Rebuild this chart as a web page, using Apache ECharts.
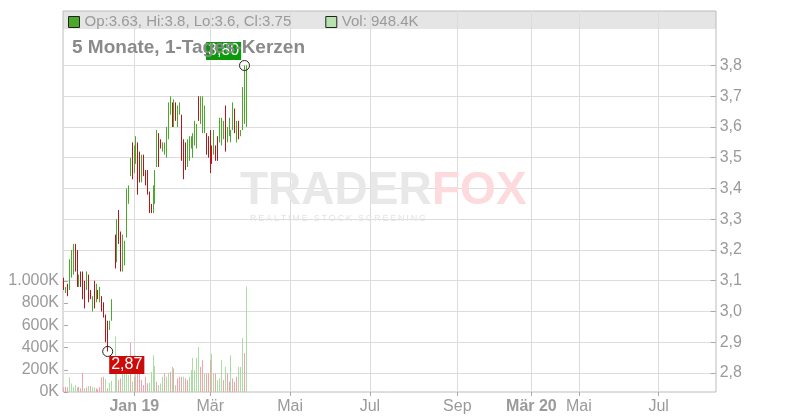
<!DOCTYPE html>
<html><head><meta charset="utf-8">
<script src="https://cdn.jsdelivr.net/npm/echarts@6/dist/echarts.min.js"></script>
<style>html,body{margin:0;padding:0;background:#fff}#c{width:800px;height:420px}</style>
</head><body><div id="c"></div>
<script>
// ---- data (one slot per trading day, null = no bar) ----
const highs = [3.11,3.08,3.09,3.17,3.20,3.22,3.22,3.20,3.12,3.13,3.13,3.10,3.13,3.12,3.07,3.05,3.10,3.09,3.07,3.08,3.05,3.03,2.99,2.97,2.97,3.04,null,
  3.25,3.30,3.33,3.26,3.25,3.23,3.40,3.41,3.50,3.55,3.54,3.57,3.55,3.52,3.51,3.51,3.46,3.46,3.39,3.35,3.41,3.46,3.59,3.58,3.56,3.55,3.55,3.60,
  3.68,3.70,3.68,3.69,3.68,3.67,3.68,3.64,3.56,3.55,3.56,3.57,3.57,3.58,3.62,3.61,3.70,3.70,3.70,3.67,3.58,3.57,3.59,3.54,3.59,3.54,3.57,3.63,3.63,3.62,3.67,3.60,3.63,3.59,3.68,3.66,3.62,3.62,3.59,3.73,3.80,3.80];
const lows = [3.07,3.06,3.05,3.07,3.11,3.12,3.13,3.08,3.08,3.08,3.04,3.01,3.07,3.03,3.04,3.00,3.01,3.03,3.04,3.03,3.00,2.98,2.90,2.87,2.94,2.97,null,
  3.14,3.16,3.22,3.13,3.13,3.15,3.24,3.35,3.44,3.43,3.45,3.48,3.38,3.42,3.42,3.44,3.41,3.38,3.32,3.32,3.32,3.35,3.47,3.47,3.53,3.52,3.51,3.50,
  3.56,3.64,3.60,3.60,3.62,3.60,3.64,3.49,3.43,3.46,3.47,3.49,3.53,3.50,3.54,3.53,3.62,3.61,3.58,3.58,3.51,3.50,3.45,3.48,3.51,3.49,3.49,3.55,3.54,3.56,3.52,3.55,3.57,3.55,3.59,3.58,3.55,3.56,3.57,3.59,3.61,3.60];
// 1 = rising candle (green), 0 = falling candle (red)
const isUp = [0,1,0,1,1,1,0,0,1,0,0,0,1,0,0,1,0,1,0,1,0,0,0,0,1,1,null,
  0,1,0,0,1,1,1,1,1,0,1,1,0,0,1,0,0,0,0,0,1,1,1,0,0,1,1,1,
  1,1,0,1,0,1,1,0,0,0,1,1,1,1,1,1,0,1,1,1,0,0,0,0,1,0,0,1,1,1,0,1,1,1,1,0,1,0,1,1,1,1];
const lastOpen = 3.63, lastClose = 3.75;
// volume in thousands
const volumes = [42,48,42,131,77,42,62,42,48,33,173,33,42,54,54,42,42,33,24,42,131,137,115,35,80,100,null,
  500,211,107,122,196,211,330,152,440,92,137,330,196,167,107,62,137,77,83,181,330,232,92,62,77,137,167,137,173,181,
  226,211,62,122,137,137,137,122,107,137,196,307,196,307,405,226,286,167,167,167,286,345,167,167,107,122,286,107,226,167,
  92,330,122,92,137,226,226,485,351,948.4];
const volUp = [0,0,0,1,1,1,1,1,0,0,0,1,0,1,0,1,1,0,0,0,0,0,1,0,1,1,null,
  1,1,0,0,1,1,1,1,0,1,0,1,0,0,0,0,0,0,1,1,1,1,0,1,1,1,0,1,1,0,1,0,1,0,0,0,1,0,0,1,1,1,1,1,1,0,0,1,0,0,0,1,1,0,1,1,1,0,1,0,0,1,0,0,0,1,1,1,0,1];
// time axis: trading-day slots, with labelled slots
const slotCount = 344;
const categories = Array.from({length: slotCount}, (_, i) => String(i));
const xTickLabels = ['Jan 19','Mär','Mai','Jul','Sep','Mär 20','Mai','Jul'];
const xTickSlots = [37, 77, 119, 161, 207, 246, 271, 313];
const titleText = '5 Monate, 1-Tages-Kerzen';

// ---- build ----
const GREEN = '#4aa82a', RED = '#b3171c', VGREEN = '#aadda2', VRED = '#f2a2ab';
const n = highs.length;
const candleData = highs.map((h, i) => {
  if (h == null) return '-';
  const l = lows[i];
  if (i === n - 1) return [lastOpen, lastClose, l, h];
  return isUp[i] ? [l, h, l, h] : [h, l, l, h];
});
const volData = volumes.map((v, i) => v == null ? '-' : (volUp[i] ? [0, v, 0, v] : [v, 0, 0, v]));
let minI = 0, maxI = 0;
highs.forEach((h, i) => {
  if (h == null) return;
  if (lows[i] < lows[minI]) minI = i;
  if (h > highs[maxI]) maxI = i;
});
const tickSet = new Set(xTickSlots);
const fmtDe = v => v.toFixed(2).replace('.', ',');
const legendText = {
  'Kurs': `Op:${lastOpen}, Hi:${highs[n-1]}, Lo:${lows[n-1]}, Cl:${lastClose}`,
  'Volumen': `Vol: ${volumes[n-1]}K`
};
const FONT = 'Liberation Sans, Arial, sans-serif';
const hiddenCat = gi => ({gridIndex: gi, type: 'category', data: categories, boundaryGap: false, show: false});
const L = 64, R = 84.3;

const chart = echarts.init(document.getElementById('c'), null, {renderer: 'canvas'});
chart.setOption({
  animation: false,
  textStyle: {fontFamily: FONT},
  title: {text: titleText, left: 72, top: 38, padding: 0, z: 10,
    textStyle: {fontFamily: FONT, fontSize: 19, fontWeight: 'bold', color: '#8a8a8a'}},
  legend: {
    left: 68, top: 14.5, padding: 0, itemWidth: 11, itemHeight: 11, itemGap: 34, selectedMode: false,
    textStyle: {fontFamily: FONT, fontSize: 15, color: '#9a9a9a'},
    formatter: name => legendText[name],
    data: [
      {name: 'Kurs', icon: 'rect', itemStyle: {color: GREEN, borderColor: '#222', borderWidth: 1}},
      {name: 'Volumen', icon: 'rect', itemStyle: {color: '#b6e2ae', borderColor: '#222', borderWidth: 1}}
    ]
  },
  graphic: [
    {type: 'text', silent: true, z: 1, x: 240, y: 191, style: {text: 'TRADER', font: 'bold 46px ' + FONT, fill: '#e8e8e8', verticalAlign: 'middle'}},
    {type: 'text', silent: true, z: 1, x: 432, y: 191, style: {text: 'FOX', font: 'bold 46px ' + FONT, fill: '#fcdade', verticalAlign: 'middle'}},
    {type: 'text', silent: true, z: 1, x: 250, y: 219, style: {text: 'REALTIME STOCK SCREENING'.split('').join('\u2009'), font: '9px ' + FONT, fill: '#e4e4e4', verticalAlign: 'middle'}}
  ],
  grid: [
    {left: 63, right: 84, top: 11, height: 18, show: true, backgroundColor: '#e5e5e5', borderWidth: 0},
    {left: 63, right: 84, top: 11, bottom: 28, show: true, backgroundColor: 'transparent', borderColor: '#bcbcbc', borderWidth: 1},
    {left: L, right: R, top: 11, bottom: 28},
    {left: L, right: R, top: 65.5, bottom: 47},
    {left: L, right: R, top: 280.8, bottom: 28}
  ],
  xAxis: [
    {gridIndex: 0, type: 'value', show: false},
    {gridIndex: 1, type: 'value', show: false},
    {gridIndex: 2, type: 'category', data: categories, boundaryGap: false,
      axisLine: {show: false},
      axisTick: {show: true, inside: false, length: 4, interval: i => tickSet.has(i), lineStyle: {color: '#aaa'}},
      axisLabel: {show: true, interval: i => tickSet.has(i), margin: 7, fontSize: 16, color: '#9a9a9a', fontFamily: FONT,
        formatter: (v, i) => {
          const k = xTickSlots.indexOf(Number(v));
          if (k < 0) return '';
          const t = xTickLabels[k];
          return /\d/.test(t) ? '{b|' + t + '}' : t;
        },
        rich: {b: {fontWeight: 'bold', fontSize: 16, color: '#9a9a9a', fontFamily: FONT}}},
      splitLine: {show: true, interval: i => tickSet.has(i), lineStyle: {color: '#dcdcdc'}}},
    hiddenCat(3),
    hiddenCat(4)
  ],
  yAxis: [
    {gridIndex: 0, type: 'value', show: false},
    {gridIndex: 1, type: 'value', show: false},
    {gridIndex: 2, type: 'value', show: false},
    {gridIndex: 3, type: 'value', position: 'right', min: 2.8, max: 3.8, interval: 0.1,
      axisLine: {show: false},
      axisTick: {show: true, inside: true, length: 5, lineStyle: {color: '#aaa'}},
      axisLabel: {margin: 4, fontSize: 16, color: '#9a9a9a', fontFamily: FONT, formatter: v => v.toFixed(1).replace('.', ',')},
      splitLine: {show: true, lineStyle: {color: '#dcdcdc'}}},
    {gridIndex: 4, type: 'value', position: 'left', min: 0, max: 1000, interval: 200,
      axisLine: {show: false},
      axisTick: {show: true, inside: true, length: 4, lineStyle: {color: '#aaa'}},
      axisLabel: {margin: 5, fontSize: 16, color: '#9a9a9a', fontFamily: FONT,
        formatter: v => (v >= 1000 ? Math.floor(v / 1000) + '.' + String(v % 1000).padStart(3, '0') : String(v)) + 'K'},
      splitLine: {show: false}}
  ],
  series: [
    {name: 'Volumen', type: 'candlestick', xAxisIndex: 4, yAxisIndex: 4, data: volData, barWidth: 0.01, z: 2,
      itemStyle: {color: VGREEN, color0: VRED, borderColor: VGREEN, borderColor0: VRED, borderWidth: 1}},
    {name: 'Kurs', type: 'candlestick', xAxisIndex: 3, yAxisIndex: 3, data: candleData, barWidth: 0.01, z: 3,
      itemStyle: {color: GREEN, color0: RED, borderColor: GREEN, borderColor0: RED, borderWidth: 1},
      markPoint: {
        symbol: 'circle', symbolSize: 10, z: 5,
        itemStyle: {color: 'rgba(255,255,255,0)', borderColor: '#222', borderWidth: 1},
        label: {show: true, color: '#fff', fontSize: 16, fontFamily: FONT, padding: [1, 2, 1, 2], lineHeight: 16,
          align: 'left', verticalAlign: 'top', formatter: p => fmtDe(p.value)},
        data: [
          {coord: [categories[minI], lows[minI]], value: lows[minI], label: {position: [7, 10], backgroundColor: '#cc0a0a'}},
          {coord: [categories[maxI], highs[maxI]], value: highs[maxI], label: {position: [-33, -18], backgroundColor: '#0a9a0a'}}
        ]
      }}
  ]
});
</script>
</body></html>
